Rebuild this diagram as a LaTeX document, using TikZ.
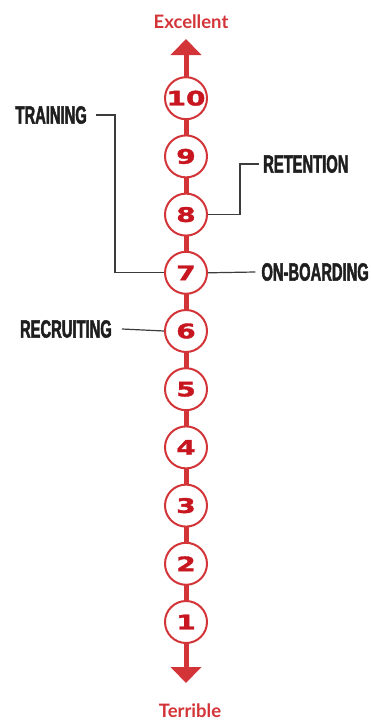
\documentclass[tikz,border=0pt]{standalone}
\usepackage{fontspec}
\usetikzlibrary{arrows.meta}
\setmainfont{Lato}
\newfontfamily\numfont[FakeStretch=1.4,FakeBold=1.8]{DejaVu Sans}
\newfontfamily\labfont[FakeStretch=0.59,FakeBold=1.8]{Liberation Sans}
\definecolor{axisred}{RGB}{211,52,56}
\definecolor{numred}{RGB}{200,22,32}
\definecolor{labdark}{RGB}{30,30,30}
\definecolor{connGray}{RGB}{60,60,60}
\tikzset{
  axis/.style={draw=axisred, line width=5pt,
    {Triangle[width=30pt,length=16pt]}-{Triangle[width=30pt,length=16pt]}},
  level/.style={circle, draw=axisred, line width=2pt, fill=white,
    minimum size=42pt, inner sep=0pt, text=numred,
    font=\numfont\bfseries\fontsize{20}{20}\selectfont},
  endlabel/.style={text=axisred, font=\bfseries\fontsize{18.5}{18.5}\selectfont,
    inner sep=0pt, anchor=base},
  stage/.style={text=labdark, inner sep=0pt,
    font=\labfont\bfseries\fontsize{25}{25}\selectfont},
  conn/.style={draw=connGray, line width=1.2pt}
}
\begin{document}
\begin{tikzpicture}[x=1pt,y=-1pt]
  \useasboundingbox (0,0) rectangle (371,720);
  % scale ends
  \coordinate (top) at (186,39);
  \coordinate (bot) at (186,683);
  \draw[axis] (top) -- (bot);
  \node[endlabel] (exc) at (191,28) {Excellent};
  \node[endlabel] (ter) at (190,717) {Terrible};
  % rating circles
  \foreach \n in {1,...,10} {
    \node[level] (c\n) at (186,{622-(\n-1)*58.2}) {\n};
  }
  % stage labels
  \node[stage, anchor=east] (tr) at (87,115) {TRAINING};
  \node[stage, anchor=west] (re) at (263,164) {RETENTION};
  \node[stage, anchor=east] (ob) at (369,272) {ON-BOARDING};
  \node[stage, anchor=east] (rc) at (112,329) {RECRUITING};
  % connectors
  \draw[conn] ([xshift=9]tr.east) -- ++(19,0) |- (c7.west);
  \draw[conn] ([xshift=-4]re.west) -- ++(-19,0) |- (c8.east);
  \draw[conn] (c7.east) -- ([xshift=-6]ob.west);
  \draw[conn] ([xshift=10]rc.east) -- (c6.west);
\end{tikzpicture}
\end{document}
